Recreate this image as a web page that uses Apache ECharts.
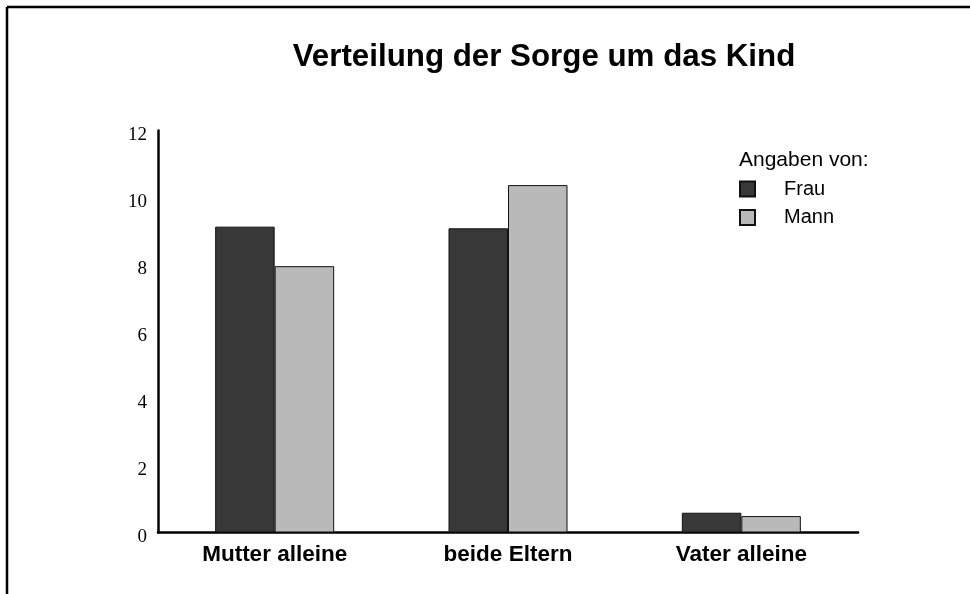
<!DOCTYPE html>
<html>
<head>
<meta charset="utf-8">
<script src="https://cdn.jsdelivr.net/npm/echarts@6/dist/echarts.min.js"></script>
<style>
  html, body { margin: 0; padding: 0; background: #fff; }
  #chart { width: 970px; height: 594px; }
</style>
</head>
<body>
<div id="chart"></div>
<script>
const titleText = 'Verteilung der Sorge um das Kind';
const legendTitle = 'Angaben von:';
const categories = ['Mutter alleine', 'beide Eltern', 'Vater alleine'];
const seriesNames = ['Frau', 'Mann'];
const frauValues = [9.13, 9.08, 0.59];
const mannValues = [7.95, 10.37, 0.49];
const yTicks = { min: 0, max: 12, interval: 2 };

const chart = echarts.init(document.getElementById('chart'), null, { renderer: 'canvas' });

const option = {
  backgroundColor: '#ffffff',
  animation: false,
  title: [
    {
      text: titleText,
      left: 544, top: 42, textAlign: 'center', padding: 0,
      textStyle: { fontFamily: 'Liberation Sans, Arial, sans-serif', fontWeight: 'bold', fontSize: 31.3, color: '#000' }
    },
    {
      text: legendTitle,
      left: 739, top: 150, padding: 0,
      textStyle: { fontFamily: 'Liberation Sans, Arial, sans-serif', fontWeight: 'normal', fontSize: 21, color: '#000' }
    }
  ],
  legend: {
    data: seriesNames,
    orient: 'vertical',
    left: 739, top: 179, padding: 0,
    itemWidth: 15, itemHeight: 15, itemGap: 8.5,
    icon: 'rect',
    textStyle: { fontFamily: 'Liberation Sans, Arial, sans-serif', fontSize: 20, color: '#000', padding: [0, 0, 0, 24] }
  },
  grid: { left: 158, right: 112, top: 130.5, bottom: 61.5, containLabel: false },
  xAxis: {
    type: 'category',
    data: categories,
    axisLine: { show: true, lineStyle: { color: '#000', width: 2.5 } },
    axisTick: { show: false },
    axisLabel: { margin: 11, fontFamily: 'Liberation Sans, Arial, sans-serif', fontWeight: 'bold', fontSize: 22.5, color: '#000' }
  },
  yAxis: {
    type: 'value',
    min: yTicks.min, max: yTicks.max, interval: yTicks.interval,
    axisLine: { show: true, lineStyle: { color: '#000', width: 2.5 } },
    axisTick: { show: false },
    splitLine: { show: false },
    axisLabel: {
      margin: 11,
      formatter: '{v|{value}}',
      rich: { v: { padding: [9, 0, 0, 0], fontFamily: 'Liberation Serif, Times New Roman, serif', fontSize: 19, color: '#000' } },
      fontFamily: 'Liberation Serif, Times New Roman, serif', fontSize: 19, color: '#000'
    }
  },
  series: [
    {
      name: seriesNames[0], type: 'bar', data: frauValues,
      barWidth: 59.5, barGap: '0%',
      itemStyle: { color: '#383838', borderColor: '#111', borderWidth: 1 }
    },
    {
      name: seriesNames[1], type: 'bar', data: mannValues,
      barWidth: 59.5, barGap: '0%',
      itemStyle: { color: '#b9b9b9', borderColor: '#111', borderWidth: 1 }
    }
  ],
  graphic: [
    { type: 'line', shape: { x1: 7, y1: 7, x2: 970, y2: 7 }, style: { stroke: '#000', lineWidth: 2.5 } },
    { type: 'line', shape: { x1: 7, y1: 7, x2: 7, y2: 594 }, style: { stroke: '#000', lineWidth: 2.5 } }
  ]
};

chart.setOption(option);
</script>
</body>
</html>
